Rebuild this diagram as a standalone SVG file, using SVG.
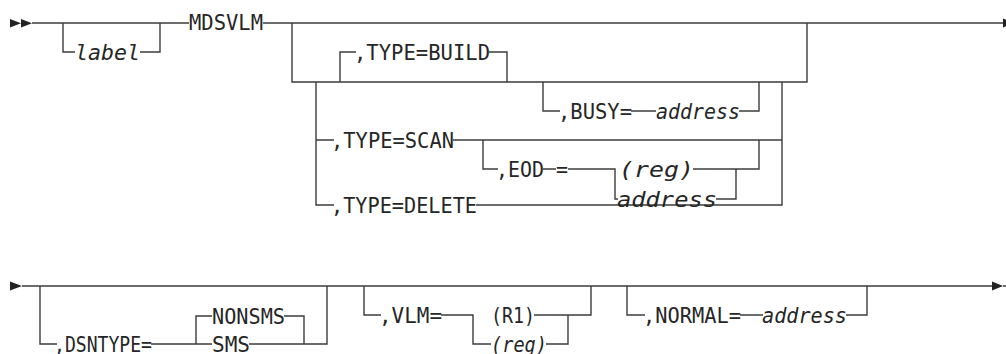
<svg xmlns="http://www.w3.org/2000/svg" width="1006" height="354" viewBox="0 0 1006 354">
<style>
.ln{fill:none;stroke:#3c3c3c;stroke-width:1.4;stroke-linejoin:miter;stroke-linecap:butt}
.ah{fill:#222;stroke:none}
text{font-family:"DejaVu Sans Mono","Liberation Mono",monospace;font-size:20.5px;fill:#262626}
.it{font-style:italic}
</style>
<rect width="1006" height="354" fill="#fff"/>
<g id="connectors">
<path class="ah" d="M10,19 L10,27.5 L21,23.2 Z M21,19 L21,27.5 L32,23.2 Z"/>
<path class="ln" d="M32,23 H189 M263,23 H1003"/>
<path class="ah" d="M1003,18.5 L1003,27.5 L1014,23 Z"/>
<path class="ln" d="M63,23 V52 H75 M140,52 H160 V23"/>
<path class="ln" d="M292,23 V82 H807 V23"/>
<path class="ln" d="M340,82 V52 H356 M489,52 H507 V82"/>
<path class="ln" d="M543,82 V111 H560 M631,111 H656 M739,111 H759 V82"/>
<path class="ln" d="M316,82 V205 H334 M316,140 H334 M453,140 H782 M782,82 V205 H476"/>
<path class="ln" d="M483,140 V169 H498 M543,169 H556 M568,169 H615 V199 H618 M693,169 H759 V140 M716,199 H736 V169"/>
<path class="ah" d="M10,281.5 L10,290.5 L22,286 Z"/>
<path class="ln" d="M22,286 H992 M1003,286 H1006"/>
<path class="ah" d="M992,281.5 L992,290.5 L1003,286 Z"/>
<path class="ln" d="M40,286 V344 H57 M151,344 H196 V316 H212 M196,344 H212 M284,316 H304 V344 M249,344 H327 V286"/>
<path class="ln" d="M364,286 V315 H381 M441,315 H473 V344 H491 M534,315 H591 V286 M546,344 H568 V315"/>
<path class="ln" d="M627,286 V315 H645 M740,315 H763 M846,315 H867 V286"/>
</g>
<g id="label"><text class="it" x="75" y="59.5" textLength="65" lengthAdjust="spacingAndGlyphs">label</text></g>
<g id="mdsvlm"><text x="189" y="30" textLength="74" lengthAdjust="spacingAndGlyphs">MDSVLM</text></g>
<g id="type-build"><text x="354" y="59.5" textLength="136" lengthAdjust="spacingAndGlyphs">,TYPE=BUILD</text></g>
<g id="busy"><text x="558" y="118.5" textLength="74" lengthAdjust="spacingAndGlyphs">,BUSY=</text><text class="it" x="656" y="118.5" textLength="84" lengthAdjust="spacingAndGlyphs">address</text></g>
<g id="type-scan"><text x="331" y="147.5" textLength="123" lengthAdjust="spacingAndGlyphs">,TYPE=SCAN</text></g>
<g id="eod"><text x="496" y="176.5" textLength="48" lengthAdjust="spacingAndGlyphs">,EOD</text><text x="556" y="176.5" textLength="12" lengthAdjust="spacingAndGlyphs">=</text></g>
<g id="eod-choice"><text class="it" x="619" y="176.5" textLength="75" lengthAdjust="spacingAndGlyphs">(reg)</text><text class="it" x="617" y="206.5" textLength="100" lengthAdjust="spacingAndGlyphs">address</text></g>
<g id="type-delete"><text x="331" y="212.5" textLength="146" lengthAdjust="spacingAndGlyphs">,TYPE=DELETE</text></g>
<g id="dsntype"><text x="54" y="351.5" textLength="98" lengthAdjust="spacingAndGlyphs">,DSNTYPE=</text></g>
<g id="dsntype-choice"><text x="212" y="323.5" textLength="73" lengthAdjust="spacingAndGlyphs">NONSMS</text><text x="212" y="351.5" textLength="38" lengthAdjust="spacingAndGlyphs">SMS</text></g>
<g id="vlm"><text x="379" y="322.5" textLength="63" lengthAdjust="spacingAndGlyphs">,VLM=</text></g>
<g id="vlm-choice"><text x="491" y="322.5" textLength="44" lengthAdjust="spacingAndGlyphs">(R1)</text><text class="it" x="491" y="351.5" textLength="56" lengthAdjust="spacingAndGlyphs">(reg)</text></g>
<g id="normal"><text x="643" y="322.5" textLength="98" lengthAdjust="spacingAndGlyphs">,NORMAL=</text><text class="it" x="762" y="322.5" textLength="85" lengthAdjust="spacingAndGlyphs">address</text></g>
</svg>
